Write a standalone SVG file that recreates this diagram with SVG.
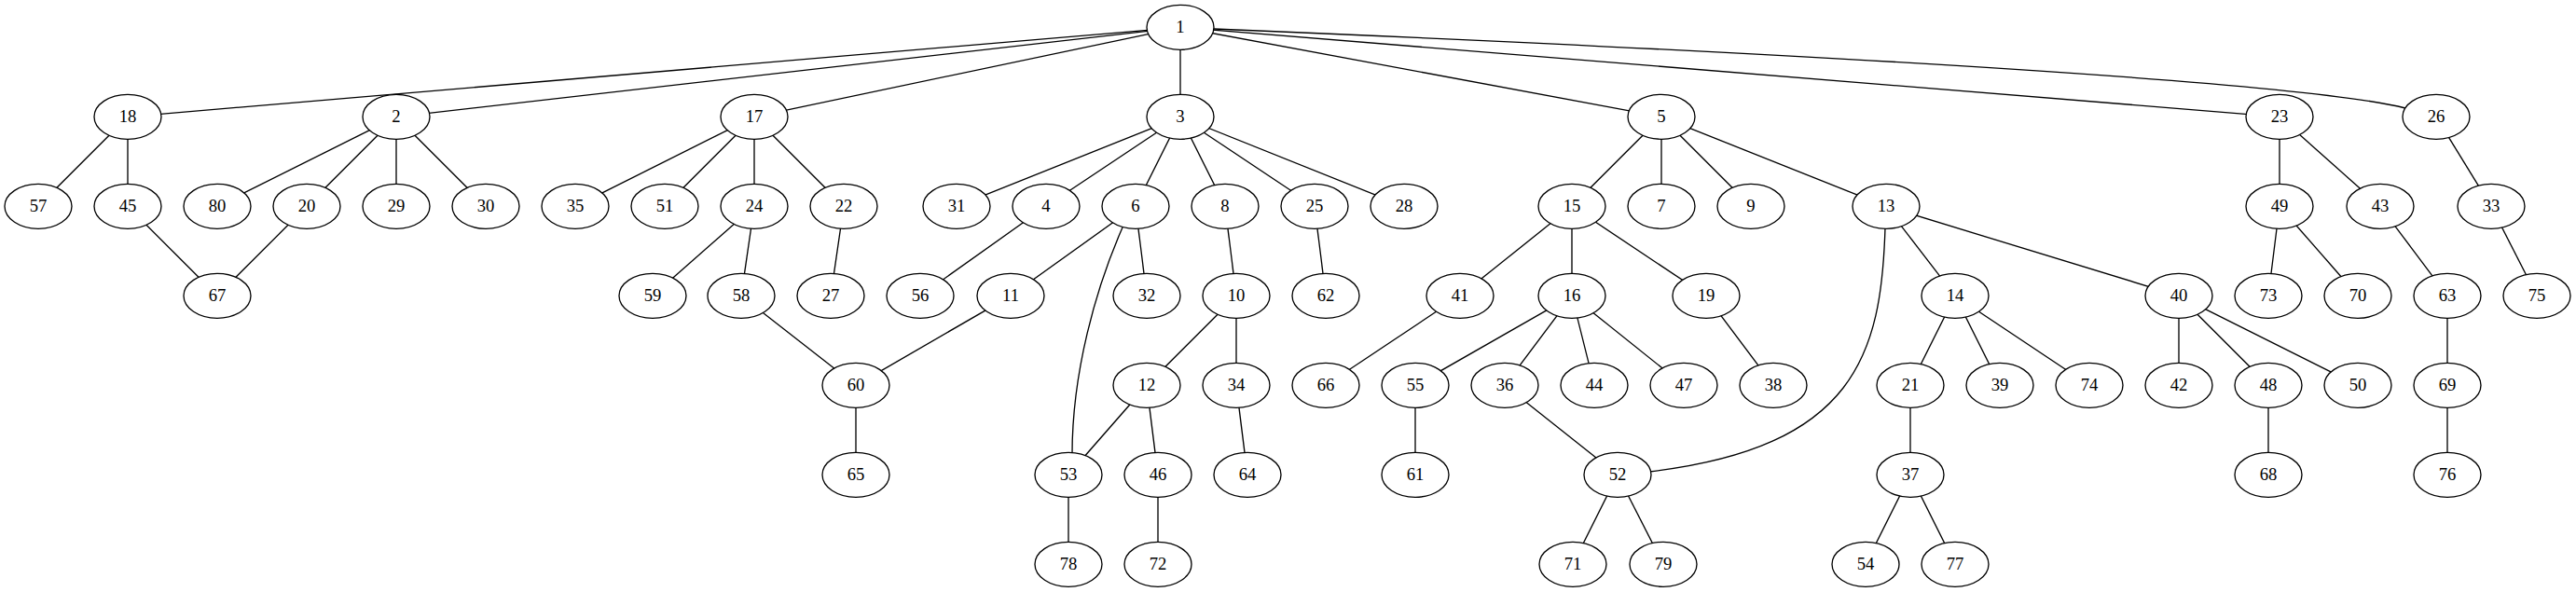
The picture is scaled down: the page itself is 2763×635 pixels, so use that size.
<svg xmlns="http://www.w3.org/2000/svg" width="2763" height="635" viewBox="0 0 2763 635">
<style>
.e line,.e path{stroke:#000;stroke-width:1.33;fill:none}
.n ellipse{fill:#fff;stroke:#000;stroke-width:1.33}
.n text{font-family:"Liberation Serif","Times New Roman",serif;font-size:18.67px;text-anchor:middle;fill:#000}
</style>
<rect width="2763" height="635" fill="#fff"/>
<g id="edges" class="e">
<line x1="1266" y1="29.3" x2="137" y2="125.3"/>
<line x1="1266" y1="29.3" x2="425" y2="125.3"/>
<line x1="1266" y1="29.3" x2="809" y2="125.3"/>
<line x1="1266" y1="29.3" x2="1266" y2="125.3"/>
<line x1="1266" y1="29.3" x2="1782" y2="125.3"/>
<line x1="1266" y1="29.3" x2="2445" y2="125.3"/>
<path d="M1302,31 C2000,60 2480,90 2580,116"/>
<line x1="137" y1="125.3" x2="41" y2="221.3"/>
<line x1="137" y1="125.3" x2="137" y2="221.3"/>
<line x1="425" y1="125.3" x2="233" y2="221.3"/>
<line x1="425" y1="125.3" x2="329" y2="221.3"/>
<line x1="425" y1="125.3" x2="425" y2="221.3"/>
<line x1="425" y1="125.3" x2="521" y2="221.3"/>
<line x1="137" y1="221.3" x2="233" y2="317.3"/>
<line x1="329" y1="221.3" x2="233" y2="317.3"/>
<line x1="809" y1="125.3" x2="617" y2="221.3"/>
<line x1="809" y1="125.3" x2="713" y2="221.3"/>
<line x1="809" y1="125.3" x2="809" y2="221.3"/>
<line x1="809" y1="125.3" x2="905" y2="221.3"/>
<line x1="809" y1="221.3" x2="700" y2="317.3"/>
<line x1="809" y1="221.3" x2="795" y2="317.3"/>
<line x1="905" y1="221.3" x2="891" y2="317.3"/>
<line x1="795" y1="317.3" x2="918" y2="413.3"/>
<line x1="1084" y1="317.3" x2="918" y2="413.3"/>
<line x1="918" y1="413.3" x2="918" y2="509.3"/>
<line x1="1266" y1="125.3" x2="1026" y2="221.3"/>
<line x1="1266" y1="125.3" x2="1122" y2="221.3"/>
<line x1="1266" y1="125.3" x2="1218" y2="221.3"/>
<line x1="1266" y1="125.3" x2="1314" y2="221.3"/>
<line x1="1266" y1="125.3" x2="1410" y2="221.3"/>
<line x1="1266" y1="125.3" x2="1506" y2="221.3"/>
<line x1="1122" y1="221.3" x2="987" y2="317.3"/>
<line x1="1218" y1="221.3" x2="1084" y2="317.3"/>
<line x1="1218" y1="221.3" x2="1230" y2="317.3"/>
<path d="M1204,244 C1175,310 1150,400 1150,487"/>
<line x1="1314" y1="221.3" x2="1326" y2="317.3"/>
<line x1="1326" y1="317.3" x2="1230" y2="413.3"/>
<line x1="1326" y1="317.3" x2="1326" y2="413.3"/>
<line x1="1230" y1="413.3" x2="1146" y2="509.3"/>
<line x1="1230" y1="413.3" x2="1242" y2="509.3"/>
<line x1="1326" y1="413.3" x2="1338" y2="509.3"/>
<line x1="1146" y1="509.3" x2="1146" y2="605.3"/>
<line x1="1242" y1="509.3" x2="1242" y2="605.3"/>
<line x1="1410" y1="221.3" x2="1422" y2="317.3"/>
<line x1="1782" y1="125.3" x2="1686" y2="221.3"/>
<line x1="1782" y1="125.3" x2="1782" y2="221.3"/>
<line x1="1782" y1="125.3" x2="1878" y2="221.3"/>
<line x1="1782" y1="125.3" x2="2023" y2="221.3"/>
<line x1="1686" y1="221.3" x2="1566" y2="317.3"/>
<line x1="1686" y1="221.3" x2="1686" y2="317.3"/>
<line x1="1686" y1="221.3" x2="1830" y2="317.3"/>
<line x1="1566" y1="317.3" x2="1422" y2="413.3"/>
<line x1="1686" y1="317.3" x2="1518" y2="413.3"/>
<line x1="1686" y1="317.3" x2="1614" y2="413.3"/>
<line x1="1686" y1="317.3" x2="1710" y2="413.3"/>
<line x1="1686" y1="317.3" x2="1806" y2="413.3"/>
<line x1="1518" y1="413.3" x2="1518" y2="509.3"/>
<line x1="1614" y1="413.3" x2="1735" y2="509.3"/>
<line x1="1830" y1="317.3" x2="1902" y2="413.3"/>
<line x1="1735" y1="509.3" x2="1687" y2="605.3"/>
<line x1="1735" y1="509.3" x2="1784" y2="605.3"/>
<path d="M2022,244 C2018,380 1990,480 1769,506"/>
<line x1="2023" y1="221.3" x2="2097" y2="317.3"/>
<line x1="2023" y1="221.3" x2="2337" y2="317.3"/>
<line x1="2097" y1="317.3" x2="2049" y2="413.3"/>
<line x1="2097" y1="317.3" x2="2145" y2="413.3"/>
<line x1="2097" y1="317.3" x2="2241" y2="413.3"/>
<line x1="2049" y1="413.3" x2="2049" y2="509.3"/>
<line x1="2049" y1="509.3" x2="2001" y2="605.3"/>
<line x1="2049" y1="509.3" x2="2097" y2="605.3"/>
<line x1="2337" y1="317.3" x2="2337" y2="413.3"/>
<line x1="2337" y1="317.3" x2="2433" y2="413.3"/>
<line x1="2337" y1="317.3" x2="2529" y2="413.3"/>
<line x1="2433" y1="413.3" x2="2433" y2="509.3"/>
<line x1="2445" y1="125.3" x2="2445" y2="221.3"/>
<line x1="2445" y1="125.3" x2="2553" y2="221.3"/>
<line x1="2445" y1="221.3" x2="2433" y2="317.3"/>
<line x1="2445" y1="221.3" x2="2529" y2="317.3"/>
<line x1="2553" y1="221.3" x2="2625" y2="317.3"/>
<line x1="2625" y1="317.3" x2="2625" y2="413.3"/>
<line x1="2625" y1="413.3" x2="2625" y2="509.3"/>
<line x1="2613" y1="125.3" x2="2672" y2="221.3"/>
<line x1="2672" y1="221.3" x2="2721" y2="317.3"/>
</g>
<g id="n1" class="n"><ellipse cx="1266" cy="29.3" rx="36" ry="24"/><text x="1266" y="35.3">1</text></g>
<g id="n18" class="n"><ellipse cx="137" cy="125.3" rx="36" ry="24"/><text x="137" y="131.3">18</text></g>
<g id="n2" class="n"><ellipse cx="425" cy="125.3" rx="36" ry="24"/><text x="425" y="131.3">2</text></g>
<g id="n17" class="n"><ellipse cx="809" cy="125.3" rx="36" ry="24"/><text x="809" y="131.3">17</text></g>
<g id="n3" class="n"><ellipse cx="1266" cy="125.3" rx="36" ry="24"/><text x="1266" y="131.3">3</text></g>
<g id="n5" class="n"><ellipse cx="1782" cy="125.3" rx="36" ry="24"/><text x="1782" y="131.3">5</text></g>
<g id="n23" class="n"><ellipse cx="2445" cy="125.3" rx="36" ry="24"/><text x="2445" y="131.3">23</text></g>
<g id="n26" class="n"><ellipse cx="2613" cy="125.3" rx="36" ry="24"/><text x="2613" y="131.3">26</text></g>
<g id="n57" class="n"><ellipse cx="41" cy="221.3" rx="36" ry="24"/><text x="41" y="227.3">57</text></g>
<g id="n45" class="n"><ellipse cx="137" cy="221.3" rx="36" ry="24"/><text x="137" y="227.3">45</text></g>
<g id="n80" class="n"><ellipse cx="233" cy="221.3" rx="36" ry="24"/><text x="233" y="227.3">80</text></g>
<g id="n20" class="n"><ellipse cx="329" cy="221.3" rx="36" ry="24"/><text x="329" y="227.3">20</text></g>
<g id="n29" class="n"><ellipse cx="425" cy="221.3" rx="36" ry="24"/><text x="425" y="227.3">29</text></g>
<g id="n30" class="n"><ellipse cx="521" cy="221.3" rx="36" ry="24"/><text x="521" y="227.3">30</text></g>
<g id="n35" class="n"><ellipse cx="617" cy="221.3" rx="36" ry="24"/><text x="617" y="227.3">35</text></g>
<g id="n51" class="n"><ellipse cx="713" cy="221.3" rx="36" ry="24"/><text x="713" y="227.3">51</text></g>
<g id="n24" class="n"><ellipse cx="809" cy="221.3" rx="36" ry="24"/><text x="809" y="227.3">24</text></g>
<g id="n22" class="n"><ellipse cx="905" cy="221.3" rx="36" ry="24"/><text x="905" y="227.3">22</text></g>
<g id="n31" class="n"><ellipse cx="1026" cy="221.3" rx="36" ry="24"/><text x="1026" y="227.3">31</text></g>
<g id="n4" class="n"><ellipse cx="1122" cy="221.3" rx="36" ry="24"/><text x="1122" y="227.3">4</text></g>
<g id="n6" class="n"><ellipse cx="1218" cy="221.3" rx="36" ry="24"/><text x="1218" y="227.3">6</text></g>
<g id="n8" class="n"><ellipse cx="1314" cy="221.3" rx="36" ry="24"/><text x="1314" y="227.3">8</text></g>
<g id="n25" class="n"><ellipse cx="1410" cy="221.3" rx="36" ry="24"/><text x="1410" y="227.3">25</text></g>
<g id="n28" class="n"><ellipse cx="1506" cy="221.3" rx="36" ry="24"/><text x="1506" y="227.3">28</text></g>
<g id="n15" class="n"><ellipse cx="1686" cy="221.3" rx="36" ry="24"/><text x="1686" y="227.3">15</text></g>
<g id="n7" class="n"><ellipse cx="1782" cy="221.3" rx="36" ry="24"/><text x="1782" y="227.3">7</text></g>
<g id="n9" class="n"><ellipse cx="1878" cy="221.3" rx="36" ry="24"/><text x="1878" y="227.3">9</text></g>
<g id="n13" class="n"><ellipse cx="2023" cy="221.3" rx="36" ry="24"/><text x="2023" y="227.3">13</text></g>
<g id="n49" class="n"><ellipse cx="2445" cy="221.3" rx="36" ry="24"/><text x="2445" y="227.3">49</text></g>
<g id="n43" class="n"><ellipse cx="2553" cy="221.3" rx="36" ry="24"/><text x="2553" y="227.3">43</text></g>
<g id="n33" class="n"><ellipse cx="2672" cy="221.3" rx="36" ry="24"/><text x="2672" y="227.3">33</text></g>
<g id="n67" class="n"><ellipse cx="233" cy="317.3" rx="36" ry="24"/><text x="233" y="323.3">67</text></g>
<g id="n59" class="n"><ellipse cx="700" cy="317.3" rx="36" ry="24"/><text x="700" y="323.3">59</text></g>
<g id="n58" class="n"><ellipse cx="795" cy="317.3" rx="36" ry="24"/><text x="795" y="323.3">58</text></g>
<g id="n27" class="n"><ellipse cx="891" cy="317.3" rx="36" ry="24"/><text x="891" y="323.3">27</text></g>
<g id="n56" class="n"><ellipse cx="987" cy="317.3" rx="36" ry="24"/><text x="987" y="323.3">56</text></g>
<g id="n11" class="n"><ellipse cx="1084" cy="317.3" rx="36" ry="24"/><text x="1084" y="323.3">11</text></g>
<g id="n32" class="n"><ellipse cx="1230" cy="317.3" rx="36" ry="24"/><text x="1230" y="323.3">32</text></g>
<g id="n10" class="n"><ellipse cx="1326" cy="317.3" rx="36" ry="24"/><text x="1326" y="323.3">10</text></g>
<g id="n62" class="n"><ellipse cx="1422" cy="317.3" rx="36" ry="24"/><text x="1422" y="323.3">62</text></g>
<g id="n41" class="n"><ellipse cx="1566" cy="317.3" rx="36" ry="24"/><text x="1566" y="323.3">41</text></g>
<g id="n16" class="n"><ellipse cx="1686" cy="317.3" rx="36" ry="24"/><text x="1686" y="323.3">16</text></g>
<g id="n19" class="n"><ellipse cx="1830" cy="317.3" rx="36" ry="24"/><text x="1830" y="323.3">19</text></g>
<g id="n14" class="n"><ellipse cx="2097" cy="317.3" rx="36" ry="24"/><text x="2097" y="323.3">14</text></g>
<g id="n40" class="n"><ellipse cx="2337" cy="317.3" rx="36" ry="24"/><text x="2337" y="323.3">40</text></g>
<g id="n73" class="n"><ellipse cx="2433" cy="317.3" rx="36" ry="24"/><text x="2433" y="323.3">73</text></g>
<g id="n70" class="n"><ellipse cx="2529" cy="317.3" rx="36" ry="24"/><text x="2529" y="323.3">70</text></g>
<g id="n63" class="n"><ellipse cx="2625" cy="317.3" rx="36" ry="24"/><text x="2625" y="323.3">63</text></g>
<g id="n75" class="n"><ellipse cx="2721" cy="317.3" rx="36" ry="24"/><text x="2721" y="323.3">75</text></g>
<g id="n60" class="n"><ellipse cx="918" cy="413.3" rx="36" ry="24"/><text x="918" y="419.3">60</text></g>
<g id="n12" class="n"><ellipse cx="1230" cy="413.3" rx="36" ry="24"/><text x="1230" y="419.3">12</text></g>
<g id="n34" class="n"><ellipse cx="1326" cy="413.3" rx="36" ry="24"/><text x="1326" y="419.3">34</text></g>
<g id="n66" class="n"><ellipse cx="1422" cy="413.3" rx="36" ry="24"/><text x="1422" y="419.3">66</text></g>
<g id="n55" class="n"><ellipse cx="1518" cy="413.3" rx="36" ry="24"/><text x="1518" y="419.3">55</text></g>
<g id="n36" class="n"><ellipse cx="1614" cy="413.3" rx="36" ry="24"/><text x="1614" y="419.3">36</text></g>
<g id="n44" class="n"><ellipse cx="1710" cy="413.3" rx="36" ry="24"/><text x="1710" y="419.3">44</text></g>
<g id="n47" class="n"><ellipse cx="1806" cy="413.3" rx="36" ry="24"/><text x="1806" y="419.3">47</text></g>
<g id="n38" class="n"><ellipse cx="1902" cy="413.3" rx="36" ry="24"/><text x="1902" y="419.3">38</text></g>
<g id="n21" class="n"><ellipse cx="2049" cy="413.3" rx="36" ry="24"/><text x="2049" y="419.3">21</text></g>
<g id="n39" class="n"><ellipse cx="2145" cy="413.3" rx="36" ry="24"/><text x="2145" y="419.3">39</text></g>
<g id="n74" class="n"><ellipse cx="2241" cy="413.3" rx="36" ry="24"/><text x="2241" y="419.3">74</text></g>
<g id="n42" class="n"><ellipse cx="2337" cy="413.3" rx="36" ry="24"/><text x="2337" y="419.3">42</text></g>
<g id="n48" class="n"><ellipse cx="2433" cy="413.3" rx="36" ry="24"/><text x="2433" y="419.3">48</text></g>
<g id="n50" class="n"><ellipse cx="2529" cy="413.3" rx="36" ry="24"/><text x="2529" y="419.3">50</text></g>
<g id="n69" class="n"><ellipse cx="2625" cy="413.3" rx="36" ry="24"/><text x="2625" y="419.3">69</text></g>
<g id="n65" class="n"><ellipse cx="918" cy="509.3" rx="36" ry="24"/><text x="918" y="515.3">65</text></g>
<g id="n53" class="n"><ellipse cx="1146" cy="509.3" rx="36" ry="24"/><text x="1146" y="515.3">53</text></g>
<g id="n46" class="n"><ellipse cx="1242" cy="509.3" rx="36" ry="24"/><text x="1242" y="515.3">46</text></g>
<g id="n64" class="n"><ellipse cx="1338" cy="509.3" rx="36" ry="24"/><text x="1338" y="515.3">64</text></g>
<g id="n61" class="n"><ellipse cx="1518" cy="509.3" rx="36" ry="24"/><text x="1518" y="515.3">61</text></g>
<g id="n52" class="n"><ellipse cx="1735" cy="509.3" rx="36" ry="24"/><text x="1735" y="515.3">52</text></g>
<g id="n37" class="n"><ellipse cx="2049" cy="509.3" rx="36" ry="24"/><text x="2049" y="515.3">37</text></g>
<g id="n68" class="n"><ellipse cx="2433" cy="509.3" rx="36" ry="24"/><text x="2433" y="515.3">68</text></g>
<g id="n76" class="n"><ellipse cx="2625" cy="509.3" rx="36" ry="24"/><text x="2625" y="515.3">76</text></g>
<g id="n78" class="n"><ellipse cx="1146" cy="605.3" rx="36" ry="24"/><text x="1146" y="611.3">78</text></g>
<g id="n72" class="n"><ellipse cx="1242" cy="605.3" rx="36" ry="24"/><text x="1242" y="611.3">72</text></g>
<g id="n71" class="n"><ellipse cx="1687" cy="605.3" rx="36" ry="24"/><text x="1687" y="611.3">71</text></g>
<g id="n79" class="n"><ellipse cx="1784" cy="605.3" rx="36" ry="24"/><text x="1784" y="611.3">79</text></g>
<g id="n54" class="n"><ellipse cx="2001" cy="605.3" rx="36" ry="24"/><text x="2001" y="611.3">54</text></g>
<g id="n77" class="n"><ellipse cx="2097" cy="605.3" rx="36" ry="24"/><text x="2097" y="611.3">77</text></g>
</svg>
